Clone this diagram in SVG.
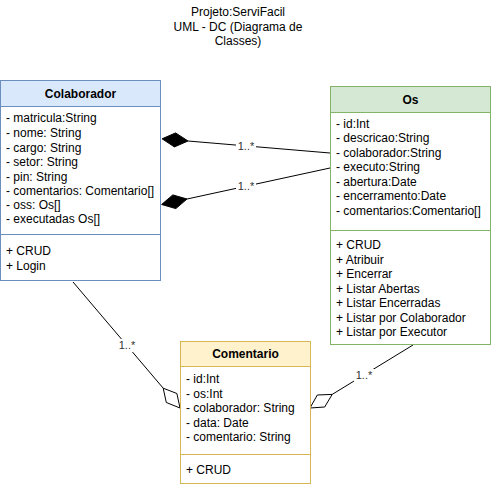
<svg xmlns="http://www.w3.org/2000/svg" width="491" height="487" viewBox="0 0 491 487">
<style>
text{font-family:"Liberation Sans",Arial,sans-serif;font-size:12px;fill:#000}
.t{font-weight:bold;text-anchor:middle}
.c{text-anchor:middle}
.lbl{font-size:11px;fill:#333;text-anchor:middle}
.ln{stroke:#000;stroke-width:1;fill:none}
</style>
<rect width="491" height="487" fill="#fff"/>
<g id="title">
<text class="c" x="238" y="16">Projeto:ServiFacil</text>
<text class="c" x="238" y="31">UML - DC (Diagrama de</text>
<text class="c" x="238" y="45">Classes)</text>
</g>
<g id="connectors">
<line class="ln" x1="188" y1="141" x2="330" y2="153"/>
<polygon points="162.1,138.8 175.6,132.9 188,141 174.4,146.9" fill="#000" stroke="#000"/>
<rect x="236" y="139" width="20" height="13" fill="#fff"/>
<text class="lbl" x="246" y="150">1..*</text>
<line class="ln" x1="187" y1="199" x2="330" y2="168"/>
<polygon points="161.6,204.5 172.8,194.9 187,199 175.8,208.6" fill="#000" stroke="#000"/>
<rect x="236" y="180" width="20" height="13" fill="#fff"/>
<text class="lbl" x="246" y="190">1..*</text>
<line class="ln" x1="73" y1="282" x2="163.2" y2="388.2"/>
<polygon points="180,408 166.3,402.5 163.2,388.2 176.9,393.5" fill="#fff" stroke="#000"/>
<rect x="117" y="339" width="20" height="13" fill="#fff"/>
<text class="lbl" x="127" y="349">1..*</text>
<line class="ln" x1="413" y1="345" x2="332.2" y2="394.4"/>
<polygon points="310,408 324.7,407 332.2,394.4 317.3,395" fill="#fff" stroke="#000"/>
<rect x="354" y="369" width="20" height="13" fill="#fff"/>
<text class="lbl" x="364" y="379">1..*</text>
</g>
<g id="Colaborador">
<rect x="0.5" y="80.5" width="160" height="200" fill="#fff" stroke="#6c8ebf"/>
<rect x="0.5" y="80.5" width="160" height="26" fill="#dae8fc" stroke="#6c8ebf"/>
<text class="t" x="80.5" y="98">Colaborador</text>
<text x="6" y="122">- matricula:String</text>
<text x="6" y="137">- nome: String</text>
<text x="6" y="152">- cargo: String</text>
<text x="6" y="166">- setor: String</text>
<text x="6" y="181">- pin: String</text>
<text x="6" y="195">- comentarios: Comentario[]</text>
<text x="6" y="209">- oss: Os[]</text>
<text x="6" y="223">- executadas Os[]</text>
<line x1="0.5" y1="234.5" x2="160.5" y2="234.5" stroke="#6c8ebf"/>
<text x="6" y="255">+ CRUD</text>
<text x="6" y="270">+ Login</text>
</g>
<g id="Os">
<rect x="330.5" y="86.5" width="160" height="258" fill="#fff" stroke="#82b366"/>
<rect x="330.5" y="86.5" width="160" height="26" fill="#d5e8d4" stroke="#82b366"/>
<text class="t" x="410.5" y="104">Os</text>
<text x="336" y="128">- id:Int</text>
<text x="336" y="142">- descricao:String</text>
<text x="336" y="157">- colaborador:String</text>
<text x="336" y="171">- executo:String</text>
<text x="336" y="186">- abertura:Date</text>
<text x="336" y="200">- encerramento:Date</text>
<text x="336" y="215">- comentarios:Comentario[]</text>
<line x1="330.5" y1="230.5" x2="490.5" y2="230.5" stroke="#82b366"/>
<text x="336" y="249">+ CRUD</text>
<text x="336" y="264">+ Atribuir</text>
<text x="336" y="278">+ Encerrar</text>
<text x="336" y="293">+ Listar Abertas</text>
<text x="336" y="307">+ Listar Encerradas</text>
<text x="336" y="322">+ Listar por Colaborador</text>
<text x="336" y="336">+ Listar por Executor</text>
</g>
<g id="Comentario">
<rect x="180.5" y="341.5" width="130" height="142" fill="#fff" stroke="#d6b656"/>
<rect x="180.5" y="341.5" width="130" height="25" fill="#fff2cc" stroke="#d6b656"/>
<text class="t" x="245.5" y="358">Comentario</text>
<text x="186" y="383">- id:Int</text>
<text x="186" y="398">- os:Int</text>
<text x="186" y="412">- colaborador: String</text>
<text x="186" y="427">- data: Date</text>
<text x="186" y="441">- comentario: String</text>
<line x1="180.5" y1="454.5" x2="310.5" y2="454.5" stroke="#d6b656"/>
<text x="186" y="474">+ CRUD</text>
</g>
</svg>
